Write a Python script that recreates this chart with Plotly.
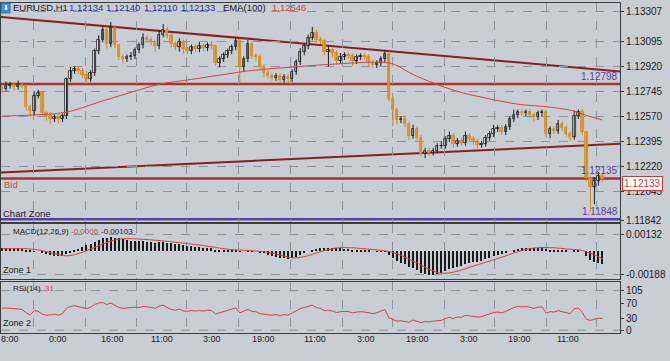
import plotly.graph_objects as go

# ---------------- data ----------------
first_open = 1.12772
closes = [1.12765, 1.12786, 1.12793, 1.12779, 1.12793, 1.12786, 1.12634, 1.12606, 1.12717, 1.12738,
          1.12593, 1.12572, 1.12551, 1.12565, 1.12551, 1.12572, 1.12834, 1.12890, 1.12904, 1.12890,
          1.12862, 1.12834, 1.12876, 1.13028, 1.13111, 1.13181, 1.13077, 1.13194, 1.13070, 1.12987,
          1.12973, 1.12987, 1.12994, 1.13035, 1.13070, 1.13125, 1.13111, 1.13091, 1.13063, 1.13146,
          1.13181, 1.13139, 1.13077, 1.13056, 1.13091, 1.13042, 1.13028, 1.13056, 1.13042, 1.13063,
          1.13049, 1.13070, 1.13063, 1.12945, 1.12973, 1.13001, 1.13028, 1.13056, 1.13098, 1.12918,
          1.12973, 1.13077, 1.12994, 1.12987, 1.12918, 1.12876, 1.12855, 1.12841, 1.12855, 1.12828,
          1.12848, 1.12834, 1.12883, 1.12952, 1.13021, 1.13063, 1.13125, 1.13160, 1.13111, 1.13098,
          1.13021, 1.13035, 1.13015, 1.12959, 1.12987, 1.13001, 1.12994, 1.12959, 1.12987, 1.12994,
          1.12987, 1.12945, 1.12932, 1.12945, 1.12973, 1.13008, 1.12696, 1.12613, 1.12544, 1.12551,
          1.12516, 1.12434, 1.12482, 1.12420, 1.12309, 1.12330, 1.12316, 1.12330, 1.12364, 1.12364,
          1.12413, 1.12434, 1.12378, 1.12399, 1.12385, 1.12434, 1.12413, 1.12392, 1.12371, 1.12378,
          1.12420, 1.12447, 1.12482, 1.12489, 1.12461, 1.12496, 1.12551, 1.12579, 1.12599, 1.12593,
          1.12599, 1.12579, 1.12565, 1.12593, 1.12599, 1.12447, 1.12482, 1.12468, 1.12516, 1.12489,
          1.12447, 1.12427, 1.12572, 1.12599, 1.12461, 1.12136, 1.12074, 1.12115, 1.12150, 1.12133]

up_wick_pips = [2, 3, 2, 2, 3, 2, 1, 2, 3, 2,
                1, 2, 3, 2, 2, 2, 1, 3, 2, 2,
                2, 3, 2, 2, 3, 2, 2, 4, 2, 1,
                2, 2, 3, 2, 2, 3, 2, 2, 2, 3,
                4, 2, 2, 2, 3, 2, 2, 2, 2, 3,
                2, 2, 3, 1, 2, 2, 2, 2, 3, 2,
                2, 3, 2, 2, 2, 2, 2, 2, 2, 2,
                2, 2, 2, 2, 3, 2, 2, 4, 2, 2,
                2, 3, 2, 2, 3, 2, 2, 2, 2, 2,
                2, 2, 2, 2, 2, 3, 2, 2, 2, 2,
                2, 2, 3, 2, 2, 2, 2, 2, 2, 3,
                2, 3, 2, 2, 2, 3, 2, 2, 2, 2,
                2, 2, 3, 2, 2, 2, 2, 4, 2, 2,
                2, 2, 2, 2, 2, 2, 2, 2, 3, 2,
                2, 2, 4, 2, 2, 1, 2, 3, 3, 2]
down_wick_pips = [3, 2, 2, 3, 2, 2, 2, 4, 3, 2,
                  2, 3, 3, 2, 3, 2, 2, 2, 2, 2,
                  2, 2, 2, 2, 2, 2, 3, 2, 2, 2,
                  3, 2, 2, 2, 2, 2, 2, 2, 4, 2,
                  2, 2, 2, 2, 3, 3, 2, 2, 2, 2,
                  2, 2, 2, 2, 3, 2, 2, 2, 2, 11,
                  3, 2, 2, 3, 2, 3, 2, 2, 2, 2,
                  2, 3, 2, 2, 2, 2, 2, 2, 2, 2,
                  2, 10, 3, 2, 2, 2, 2, 3, 2, 2,
                  2, 2, 2, 2, 2, 2, 2, 11, 3, 2,
                  2, 3, 2, 2, 2, 3, 2, 2, 2, 2,
                  2, 2, 3, 2, 2, 2, 2, 2, 2, 2,
                  2, 2, 2, 2, 2, 2, 2, 2, 2, 2,
                  2, 2, 3, 2, 2, 2, 3, 2, 2, 2,
                  2, 3, 2, 2, 2, 2, 17, 12, 3, 2]

ema_idx = [0, 7, 16, 24, 32, 39, 47, 52, 62, 71, 81, 95, 98, 101, 106, 113, 119, 128, 136, 142, 144, 149]
ema_val = [1.12573, 1.12580, 1.12601, 1.12671, 1.12740, 1.12796, 1.12831, 1.12852, 1.12894, 1.12915,
           1.12936, 1.12950, 1.12929, 1.12880, 1.12817, 1.12747, 1.12706, 1.12657, 1.12636, 1.12608,
           1.12587, 1.12546]

macd_e5 = [25, 24, 24, 23, 22, 20, 15, 8, 3, 0,
           -10, -20, -30, -38, -40, -38, -20, -5, 10, 22,
           35, 50, 62, 80, 95, 105, 108, 114, 112, 105,
           98, 92, 88, 85, 82, 82, 78, 75, 72, 74,
           75, 72, 66, 60, 58, 52, 48, 45, 40, 36,
           32, 28, 25, 15, 10, 8, 8, 9, 12, 2,
           0, 4, 2, 0, -5, -15, -25, -35, -42, -50,
           -55, -58, -55, -45, -30, -15, 0, 15, 22, 27,
           25, 28, 30, 25, 24, 22, 20, 15, 14, 12,
           10, 5, 0, -2, -2, 2, -25, -50, -75, -90,
           -105, -125, -135, -150, -172, -185, -190, -188, -180, -170,
           -155, -140, -135, -125, -115, -100, -90, -85, -82, -75,
           -62, -50, -38, -28, -22, -15, 0, 12, 22, 25,
           28, 28, 30, 32, 33, 20, 15, 12, 12, 8,
           5, 0, 5, 10, 0, -40, -70, -85, -95, -103]
signal_idx = [0, 8, 13, 16, 19, 23, 27, 30, 35, 42, 50, 56, 62, 66, 70, 72, 75, 79, 83, 86,
              92, 97, 102, 107, 109, 112, 118, 124, 128, 132, 136, 141, 144, 149]
signal_e5 = [20, 15, -20, -38, -20, 30, 80, 100, 95, 75, 45, 15, 3, -10, -40, -55, -45, -5, 25, 28,
             12, -10, -80, -160, -178, -170, -110, -50, -5, 25, 28, 15, 5, -60]

rsi = [58, 59, 58, 57, 56, 55, 46, 40, 52, 50,
       42, 40, 41, 42, 40, 44, 58, 63, 65, 62,
       60, 57, 61, 68, 72, 73, 68, 72, 66, 60,
       58, 59, 59, 61, 60, 63, 62, 61, 58, 64,
       66, 60, 55, 53, 56, 51, 50, 52, 51, 52,
       51, 53, 52, 43, 46, 50, 53, 56, 59, 46,
       50, 55, 50, 49, 44, 42, 41, 40, 41, 39,
       41, 40, 46, 52, 57, 60, 63, 66, 60, 58,
       52, 53, 51, 47, 49, 50, 49, 46, 48, 49,
       48, 45, 44, 46, 50, 55, 33, 28, 24, 25,
       24, 21, 27, 24, 20, 23, 22, 24, 26, 26,
       31, 34, 31, 35, 34, 39, 38, 37, 35, 36,
       40, 43, 47, 48, 46, 50, 56, 60, 63, 62,
       63, 60, 58, 61, 62, 45, 49, 48, 52, 49,
       46, 44, 57, 59, 47, 29, 26, 29, 32, 31]

grid_idx = [7.7, 20.6, 33.3, 45.9, 58.8, 71.7, 84.4, 96.8, 109.7, 122.1, 135.2, 147.4]
time_label_idx = [13.9, 27.5, 39.7, 52.1, 65.0, 77.7, 90.3, 103.0, 115.9, 128.5, 140.4, 154.1]
time_labels = ["0:00", "16:00", "11:00", "3:00", "19:00", "11:00", "3:00", "19:00", "3:00", "19:00", "11:00", "3:00"]
first_time_label = "8:00"

price_ticks = [1.13307, 1.13095, 1.12920, 1.12745, 1.12570, 1.12395, 1.12220, 1.12045, 1.11842]
macd_ticks = [0.00132, -0.00188]
rsi_ticks = [105, 70, 30, 0]

level_red = [1.12798, 1.12135]
level_purple = 1.11848
trend_upper = [(-0.25, 1.13270), (153.35, 1.12887)]
trend_lower = [(-0.25, 1.12176), (153.35, 1.12378)]

header_prices = ["1.12134", "1.12140", "1.12110", "1.12133"]
ema_label_value = "1.12546"
bid_price = 1.12133
macd_main_txt, macd_signal_txt = "-0.0006", "-0.00103"
rsi_txt = "31"

# ---------------- styling ----------------
W, H = 670, 361
def px(x):
    return x / W
def py(y):
    return 1 - y / H

BG = "#c9cdd4"
GRID = "#8e949c"
FRAME = "#3a3d42"
TXT = "#1c1c1c"
RED = "#cf4545"
DARKRED = "#8a1f22"
LEVELRED = "#a83236"
PURPLE = "#5a3ea6"
FONT = "Liberation Sans, Arial, sans-serif"
XR = [-0.25, 153.35]

n = len(closes)
idx = list(range(n))
opens = [first_open] + closes[:-1]
highs = [max(o, c) + u * 0.0001 for o, c, u in zip(opens, closes, up_wick_pips)]
lows = [min(o, c) - d * 0.0001 for o, c, d in zip(opens, closes, down_wick_pips)]
bull = [c >= o for o, c in zip(opens, closes)]

UP_FILL, UP_LINE = "#e2e4e8", "#1e1e1e"
DN_FILL, DN_LINE = "#f2a53a", "#d08a1e"

fig = go.Figure()

# wicks
for is_up, col in [(True, UP_LINE), (False, DN_LINE)]:
    wx, wy = [], []
    for i in idx:
        if bull[i] == is_up:
            wx += [i, i, None]
            wy += [lows[i], highs[i], None]
    fig.add_trace(go.Scatter(x=wx, y=wy, mode="lines", line=dict(color=col, width=1),
                             xaxis="x", yaxis="y", hoverinfo="skip", showlegend=False))

# bodies
fig.add_trace(go.Bar(
    x=idx,
    y=[max(abs(c - o), 0.00001) for o, c in zip(opens, closes)],
    base=[min(o, c) for o, c in zip(opens, closes)],
    width=0.62,
    marker=dict(color=[UP_FILL if b else DN_FILL for b in bull],
                line=dict(color=[UP_LINE if b else DN_LINE for b in bull], width=0.8)),
    xaxis="x", yaxis="y", showlegend=False, hoverinfo="skip"))

# EMA(100)
fig.add_trace(go.Scatter(x=ema_idx, y=ema_val, mode="lines", line=dict(color=RED, width=1, shape="spline"),
                         xaxis="x", yaxis="y", showlegend=False, hoverinfo="skip"))

# MACD
fig.add_trace(go.Bar(x=idx, y=[v * 1e-5 for v in macd_e5], width=0.32,
                     marker=dict(color="#1a1a1a", line=dict(width=0)),
                     xaxis="x2", yaxis="y2", showlegend=False, hoverinfo="skip"))
fig.add_trace(go.Scatter(x=signal_idx, y=[v * 1e-5 for v in signal_e5], mode="lines",
                         line=dict(color=RED, width=1, shape="spline"),
                         xaxis="x2", yaxis="y2", showlegend=False, hoverinfo="skip"))

# RSI
fig.add_trace(go.Scatter(x=idx, y=rsi, mode="lines", line=dict(color=RED, width=1),
                         xaxis="x3", yaxis="y3", showlegend=False, hoverinfo="skip"))

shapes = []
for (a, b), col, w in [(trend_upper, DARKRED, 2), (trend_lower, DARKRED, 2)]:
    shapes.append(dict(type="line", xref="x", yref="y", x0=a[0], y0=a[1], x1=b[0], y1=b[1],
                       line=dict(color=col, width=w), layer="below"))
for lv in level_red:
    shapes.append(dict(type="line", xref="x", yref="y", x0=XR[0], x1=XR[1], y0=lv, y1=lv,
                       line=dict(color=LEVELRED, width=2.5), layer="below"))
shapes.append(dict(type="line", xref="x", yref="y", x0=XR[0], x1=XR[1], y0=level_purple, y1=level_purple,
                   line=dict(color=PURPLE, width=2.5), layer="below"))
for lv in [105, 0]:
    shapes.append(dict(type="line", xref="x3", yref="y3", x0=XR[0], x1=XR[1], y0=lv, y1=lv,
                       line=dict(color=GRID, width=1, dash="dash"), layer="below"))
# header icon
shapes.append(dict(type="rect", xref="paper", yref="paper", x0=px(1), x1=px(10), y0=py(13), y1=py(3),
                   fillcolor="#3d8fd6", line=dict(color="#2a6aa8", width=1)))

ann = []
def text(x, y, s, color=TXT, size=10, xanchor="left"):
    ann.append(dict(x=px(x), y=py(y), xref="paper", yref="paper", text=s, showarrow=False,
                    xanchor=xanchor, yanchor="middle", font=dict(family=FONT, size=size, color=color)))

text(5.5, 8, "⬇", "#ffffff", 7, "center")
text(11, 8, "EURUSD,H1", TXT, 9.5)
for xp, s in zip([67, 104, 142, 179], header_prices):
    text(xp, 8, s, "#26358c", 9.5)
text(221, 8, "EMA(100)", TXT, 9.5)
text(270, 8, ema_label_value, RED, 9.5)
text(2, 186, "Bid", RED, 9.5)
text(1, 215, "Chart Zone", TXT, 9.5)
text(11, 233, "MACD(12,26,9)", TXT, 8)
text(69, 233, macd_main_txt, RED, 8)
text(99, 233, macd_signal_txt, TXT, 8)
text(1, 272, "Zone 1", TXT, 9)
text(11, 291, "RSI(14)", TXT, 8)
text(43, 291, rsi_txt, RED, 8)
text(1, 326, "Zone 2", TXT, 9)
text(-1, 342, first_time_label, TXT, 9)

for xi, s in zip(time_label_idx, time_labels):
    ann.append(dict(x=xi, y=py(342), xref="x3", yref="paper", text=s, showarrow=False,
                    xanchor="center", yanchor="middle", font=dict(family=FONT, size=9, color=TXT)))

for lv in level_red + [level_purple]:
    ann.append(dict(x=XR[1], y=lv, xref="x", yref="y", text=f"{lv:.5f}", showarrow=False, xanchor="right",
                    yanchor="bottom", yshift=0, font=dict(family=FONT, size=10, color=PURPLE)))

ann.append(dict(x=px(622), y=bid_price, xref="paper", yref="y", text=f"{bid_price:.5f}", showarrow=False,
                xanchor="left", yanchor="middle", yshift=-5, bgcolor="#ffffff", bordercolor="#c23a3a",
                borderwidth=1, borderpad=1, font=dict(family=FONT, size=10, color="#c23a3a")))

def xax(anchor):
    return dict(domain=[px(1), px(620)], range=XR, anchor=anchor, tickvals=grid_idx, showticklabels=False,
                ticks="", showgrid=True, gridcolor=GRID, griddash="dash", gridwidth=1, zeroline=False,
                showline=True, linecolor=FRAME, linewidth=1, mirror=True, fixedrange=True)

def yax(anchor, dom, rng, tv, tt, grid=True):
    return dict(domain=dom, range=rng, anchor=anchor, side="right", tickvals=tv, ticktext=tt,
                ticks="outside", ticklen=3, tickcolor=FRAME, tickfont=dict(family=FONT, size=10, color=TXT),
                showgrid=grid, gridcolor=GRID, griddash="dash", gridwidth=1, zeroline=False,
                showline=True, linecolor=FRAME, linewidth=1, mirror=True, fixedrange=True)

fig.update_layout(
    width=W, height=H, margin=dict(l=0, r=0, t=0, b=0),
    paper_bgcolor=BG, plot_bgcolor=BG, showlegend=False, barmode="overlay", bargap=0,
    xaxis=xax("y"), xaxis2=xax("y2"), xaxis3=xax("y3"),
    yaxis=yax("x", [py(224), py(3)], [1.11828, 1.13368], price_ticks, [f"{v:.5f}" for v in price_ticks]),
    yaxis2=yax("x2", [py(281), py(225.5)], [-0.002224, 0.002216], macd_ticks, ["0.00132", "-0.00188"]),
    yaxis3=yax("x3", [py(336), py(284)], [-7.9, 128.6], rsi_ticks, [str(v) for v in rsi_ticks], grid=False),
    shapes=shapes, annotations=ann,
)

fig.write_html("out.html", config={"displayModeBar": False},
               post_script="document.body.style.margin='0';document.body.style.overflow='hidden';document.body.style.background='" + BG + "';")
